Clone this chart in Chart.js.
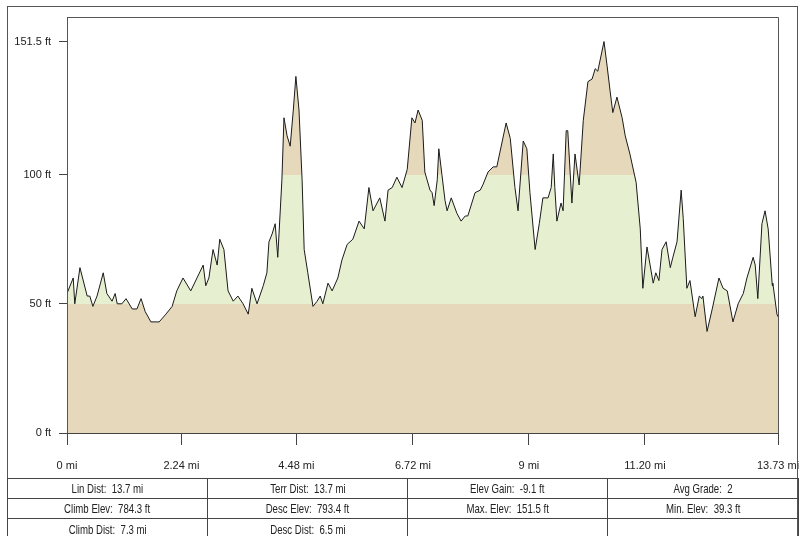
<!DOCTYPE html>
<html><head><meta charset="utf-8">
<script src="https://cdn.jsdelivr.net/npm/chart.js@4"></script>
<style>
html,body{margin:0;padding:0;background:#fff;}
#wrap{position:relative;width:799px;height:536px;overflow:hidden;font-family:"Liberation Sans",Arial,sans-serif;color:#222;}
#c{position:absolute;left:0;top:0;}
#frame{position:absolute;left:7px;top:6px;width:791px;height:560px;border:1px solid #555;box-sizing:border-box;pointer-events:none;}
table{position:absolute;left:7px;top:478px;border-collapse:collapse;width:791px;table-layout:fixed;}
td{border:1px solid #444;height:19px;text-align:center;font-size:13px;white-space:pre;padding:0;line-height:19px;overflow:hidden;}
td span{display:inline-block;transform:scaleX(0.74);transform-origin:center;}
</style></head>
<body>
<div id="wrap">
<canvas id="c" width="799" height="478"></canvas>
<div id="frame"></div>
<table>
<colgroup><col style="width:200px"><col style="width:200px"><col style="width:200px"><col style="width:191px"></colgroup>
<tr><td id="t0"></td><td id="t1"></td><td id="t2"></td><td id="t3"></td></tr>
<tr><td id="t4"></td><td id="t5"></td><td id="t6"></td><td id="t7"></td></tr>
<tr style="height:22px"><td id="t8"></td><td id="t9"></td><td id="t10"></td><td id="t11"></td></tr>
</table>
</div>
<script>
// ---- data ----
const distMi = [0.00,0.12,0.15,0.25,0.39,0.44,0.50,0.58,0.70,0.77,0.87,0.93,0.97,1.06,1.14,1.26,1.35,1.43,1.51,1.62,1.78,1.91,2.03,2.12,2.24,2.39,2.51,2.63,2.68,2.74,2.82,2.90,2.95,3.03,3.11,3.21,3.30,3.40,3.50,3.57,3.67,3.79,3.86,3.90,3.96,4.02,4.07,4.15,4.19,4.25,4.31,4.37,4.42,4.48,4.54,4.58,4.65,4.75,4.83,4.89,4.94,5.04,5.12,5.23,5.31,5.41,5.52,5.64,5.74,5.83,5.91,6.04,6.14,6.20,6.28,6.37,6.47,6.57,6.66,6.72,6.78,6.86,6.91,7.01,7.05,7.09,7.15,7.18,7.24,7.30,7.34,7.42,7.53,7.61,7.69,7.74,7.88,7.98,8.03,8.13,8.23,8.30,8.48,8.56,8.65,8.71,8.81,8.88,8.94,9.04,9.12,9.19,9.29,9.35,9.39,9.42,9.46,9.54,9.58,9.64,9.67,9.75,9.81,9.89,9.97,10.06,10.14,10.20,10.25,10.37,10.43,10.49,10.54,10.62,10.72,10.78,10.87,10.99,11.07,11.12,11.20,11.32,11.37,11.43,11.49,11.57,11.65,11.70,11.78,11.86,11.90,11.97,12.03,12.13,12.21,12.26,12.28,12.36,12.46,12.59,12.67,12.75,12.86,12.96,13.06,13.13,13.25,13.29,13.34,13.42,13.48,13.54,13.62,13.63,13.71,13.73];
const elevFt = [54,60,50,64,53,53,49,53,62,54,51,54,50,50,52,48,48,52,47,43,43,46,49,55,60,55,60,65,57,60,71,65,75,71,55,51,53,50,46,56,50,57,62,74,77,81,68,98,122,115,111,125,138,125,98,71,62,49,51,53,50,58,55,60,67,73,75,82,79,95,86,91,82,94,95,99,95,102,122,120,125,121,101,94,93,88,98,110,100,90,86,91,85,82,84,84,93,94,96,101,103,103,120,114,95,86,113,110,93,71,81,91,91,95,108,95,82,89,86,117,117,89,108,96,121,136,137,141,140,151.5,142,132,124,130,122,115,108,97,79,56,72,58,62,59,71,74,64,68,74,94,83,56,59,45,53,52,53,39.3,48,60,56,55,43,50,54,60,68,65,52,81,86,79,57,58,46,45];
const xTickPositions = [0, 2.21, 4.43, 6.68, 8.92, 11.16, 13.73];
const xTickLabels = ['0 mi','2.24 mi','4.48 mi','6.72 mi','9 mi','11.20 mi','13.73 mi'];
const yTicks = [0, 50, 100, 151.5];
const yTickLabels = ['0 ft','50 ft','100 ft','151.5 ft'];
const bandLow = 50, bandHigh = 100;
const statLabels = ['Lin Dist:  13.7 mi','Terr Dist:  13.7 mi','Elev Gain:  -9.1 ft','Avg Grade:  2',
  'Climb Elev:  784.3 ft','Desc Elev:  793.4 ft','Max. Elev:  151.5 ft','Min. Elev:  39.3 ft',
  'Climb Dist:  7.3 mi','Desc Dist:  6.5 mi','',''];

statLabels.forEach((t,i)=>{
  const s = document.createElement('span'); s.textContent = t;
  document.getElementById('t'+i).appendChild(s);
});

const TAN = '#e6d8bb', GREEN = '#e6efcf';
const FONT = {family:'"Liberation Sans",Arial,sans-serif', size:11};

const borderPlugin = {
  id:'areaBorder',
  afterDraw(chart){
    const {ctx, chartArea:ca} = chart;
    ctx.save();
    ctx.strokeStyle = '#555';
    ctx.lineWidth = 1;
    ctx.beginPath();
    ctx.moveTo(Math.round(ca.left)+0.5, Math.round(ca.bottom));
    ctx.lineTo(Math.round(ca.left)+0.5, Math.round(ca.top)+0.5);
    ctx.lineTo(Math.round(ca.right)+0.5, Math.round(ca.top)+0.5);
    ctx.lineTo(Math.round(ca.right)+0.5, Math.round(ca.bottom));
    ctx.stroke();
    ctx.restore();
  }
};

new Chart(document.getElementById('c'), {
  type:'line',
  data:{datasets:[{
    data: distMi.map((x,i)=>({x, y: elevFt[i]})),
    borderColor:'#1a1a1a', borderWidth:1, pointRadius:0, tension:0,
    fill:'origin',
    backgroundColor:(ctx)=>{
      const ch = ctx.chart, ca = ch.chartArea;
      if(!ca) return TAN;
      const ys = ch.scales.y;
      const y0 = ys.getPixelForValue(0), yT = ys.getPixelForValue(ys.max);
      const g = ch.ctx.createLinearGradient(0,y0,0,yT);
      const f1 = bandLow/ys.max, f2 = bandHigh/ys.max;
      g.addColorStop(0,TAN); g.addColorStop(f1,TAN); g.addColorStop(f1,GREEN);
      g.addColorStop(f2,GREEN); g.addColorStop(f2,TAN); g.addColorStop(1,TAN);
      return g;
    }
  }]},
  options:{
    responsive:false, animation:false, devicePixelRatio:1,
    layout:{padding:{top:17,right:21,left:0,bottom:0}},
    plugins:{legend:{display:false}, tooltip:{enabled:false}},
    scales:{
      x:{type:'linear', min:0, max:13.73,
        afterBuildTicks:s=>{s.ticks = xTickPositions.map(v=>({value:v}));},
        afterFit:s=>{s.height = 45; s.paddingLeft = 0; s.paddingRight = 0;},
        ticks:{callback:(v,i)=>xTickLabels[i], autoSkip:false, maxRotation:0, padding:14, color:'#222', font:FONT},
        grid:{drawOnChartArea:false, tickLength:12, color:'#444'},
        border:{color:'#444'}
      },
      y:{min:0, max:161,
        afterBuildTicks:s=>{s.ticks = yTicks.map(v=>({value:v}));},
        afterFit:s=>{s.width = 67; s.paddingTop = 0; s.paddingBottom = 0;},
        ticks:{callback:(v,i)=>yTickLabels[i], autoSkip:false, padding:8, color:'#222', font:FONT},
        grid:{drawOnChartArea:false, tickLength:8, color:'#444'},
        border:{color:'#444'}
      }
    }
  },
  plugins:[borderPlugin]
});
</script>
</body></html>
